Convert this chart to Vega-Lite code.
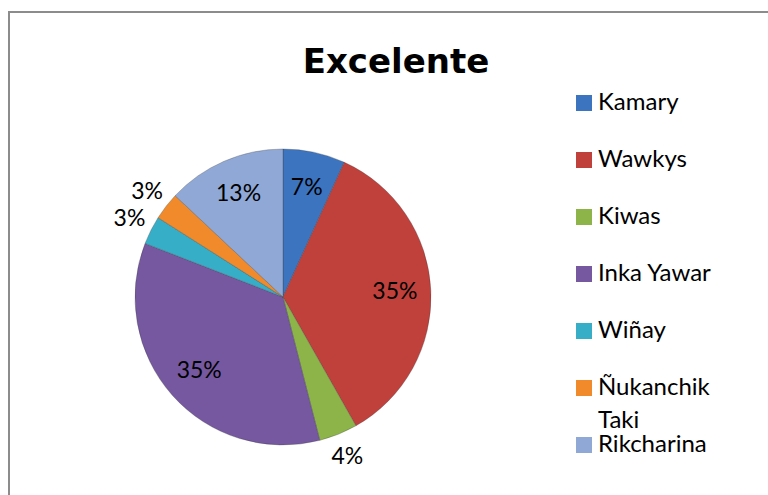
{
  "$schema": "https://vega.github.io/schema/vega-lite/v6.json",
  "width": 762,
  "height": 486,
  "autosize": {"type": "none"},
  "padding": {"left": 9, "top": 12, "right": -3, "bottom": -3},
  "background": "white",
  "view": {"stroke": "#8c8c8c", "strokeWidth": 2, "fill": "white"},
  "config": {
    "font": "Lato",
    "style": {"guide-label": {"lineHeight": 33}}
  },
  "title": {
    "text": "Excelente",
    "font": "DejaVu Sans",
    "fontSize": 34,
    "fontWeight": "bold",
    "color": "black",
    "anchor": "middle",
    "frame": "group",
    "offset": -68,
    "dx": 6
  },
  "data": {
    "values": [
      {"name": "Kamary", "share": 0.068, "order": 1},
      {"name": "Wawkys", "share": 0.35, "order": 2},
      {"name": "Kiwas", "share": 0.042, "order": 3},
      {"name": "Inka Yawar", "share": 0.349, "order": 4},
      {"name": "Wiñay", "share": 0.031, "order": 5},
      {"name": "Ñukanchik Taki", "share": 0.03, "order": 6},
      {"name": "Rikcharina", "share": 0.13, "order": 7}
    ]
  },
  "encoding": {
    "theta": {"field": "share", "type": "quantitative", "stack": true},
    "order": {"field": "order", "type": "quantitative"}
  },
  "layer": [
    {
      "mark": {"type": "arc", "outerRadius": 148, "x": 274, "y": 285, "stroke": "#3a3a3a", "strokeWidth": 0.6, "strokeOpacity": 0.5},
      "encoding": {
        "color": {
          "field": "name",
          "type": "nominal",
          "sort": ["Kamary", "Wawkys", "Kiwas", "Inka Yawar", "Wiñay", "Ñukanchik Taki", "Rikcharina"],
          "scale": {
            "domain": ["Kamary", "Wawkys", "Kiwas", "Inka Yawar", "Wiñay", "Ñukanchik Taki", "Rikcharina"],
            "range": ["#3d74c0", "#c0403c", "#8db449", "#7558a0", "#37aec8", "#f08a2a", "#8fa8d6"]
          },
          "legend": {
            "orient": "none",
            "legendX": 563,
            "legendY": 79,
            "title": null,
            "padding": 0,
            "symbolType": "square",
            "symbolSize": 256,
            "symbolStrokeWidth": 0,
            "labelFont": "Lato",
            "labelFontSize": 24,
            "labelColor": "black",
            "labelOffset": 2,
            "labelLimit": 300,
            "rowPadding": 0,
            "labelExpr": "datum.label == 'Ñukanchik Taki' ? ['Ñukanchik', 'Taki'] : [datum.label, '']",
            "encode": {"labels": {"update": {"lineHeight": {"value": 33}}}}
          }
        }
      }
    },
    {
      "mark": {"type": "text", "radius": 112, "x": 274, "y": 285, "font": "Lato", "fontSize": 23, "color": "black"},
      "encoding": {
        "text": {"condition": {"test": "datum.share < 0.05", "value": ""}, "field": "share", "type": "quantitative", "format": ".0%"}
      }
    },
    {
      "mark": {"type": "text", "radius": 172, "x": 274, "y": 285, "font": "Lato", "fontSize": 23, "color": "black"},
      "encoding": {
        "text": {"condition": {"test": "datum.share >= 0.05", "value": ""}, "field": "share", "type": "quantitative", "format": ".0%"}
      }
    }
  ]
}
